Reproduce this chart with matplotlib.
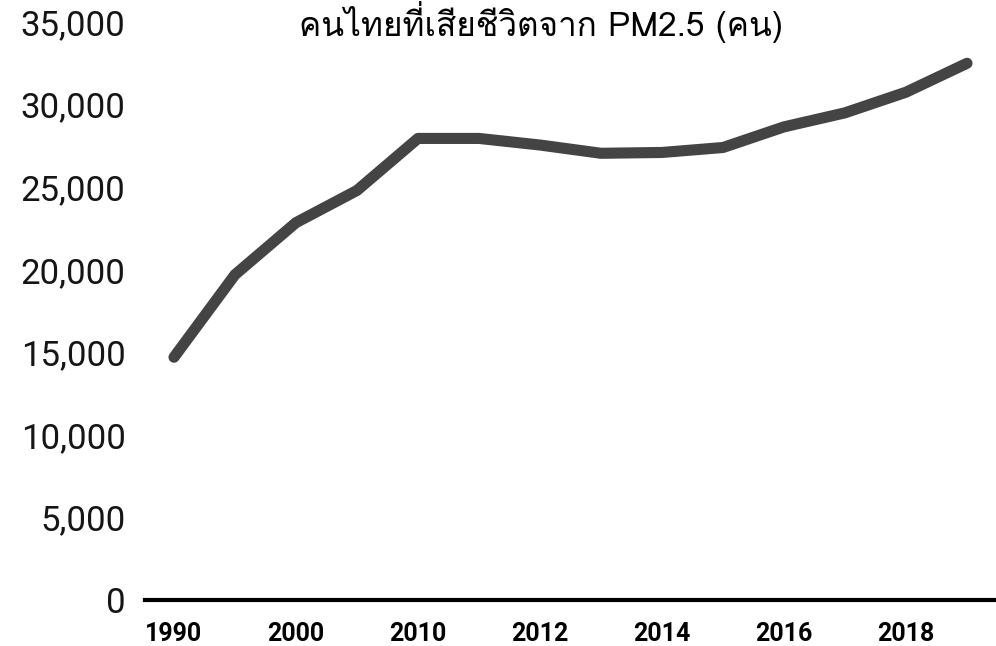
import matplotlib
matplotlib.use('Agg')
import matplotlib.pyplot as plt
from matplotlib import font_manager
from matplotlib.ft2font import FT2Font
from matplotlib.ticker import FuncFormatter

# data
years = ['1990', '1995', '2000', '2005', '2010', '2011', '2012', '2013',
         '2014', '2015', '2016', '2017', '2018', '2019']
deaths = [14700, 19700, 22850, 24800, 27950, 27950, 27550, 27050,
          27100, 27400, 28650, 29500, 30750, 32500]
shown_labels = ['1990', '2000', '2010', '2012', '2014', '2016', '2018']
title = 'คนไทยที่เสียชีวิตจาก PM2.5 (คน)'


def find_thai_font():
    # look for any installed font that has Thai glyphs
    for f in font_manager.fontManager.ttflist:
        try:
            if ord('ก') in FT2Font(f.fname).get_charmap():
                return f.name
        except Exception:
            pass
    return None


thai = find_thai_font()
base = 'Roboto'

fig = plt.figure(figsize=(9.96, 6.46), dpi=100)
ax = fig.add_axes([145 / 996, 1 - 600 / 646, 851 / 996, 578 / 646])

x = list(range(len(years)))
ax.plot(x, deaths, color='#444444', lw=8, solid_capstyle='round',
        solid_joinstyle='round', clip_on=False)

ax.set_xlim(-0.475, 13.475)
ax.set_ylim(0, 35000)
ax.set_yticks(range(0, 35001, 5000))
ax.yaxis.set_major_formatter(FuncFormatter(lambda v, p: f'{int(v):,}'))
ticks = [years.index(s) for s in shown_labels]
ax.set_xticks(ticks)
ax.set_xticklabels(shown_labels)

for s in ['top', 'right', 'left']:
    ax.spines[s].set_visible(False)
ax.spines['bottom'].set_linewidth(3)
ax.spines['bottom'].set_color('black')
ax.tick_params(axis='both', length=0)
ax.tick_params(axis='y', pad=14)
ax.tick_params(axis='x', pad=16)

for t in ax.get_yticklabels():
    t.set_fontfamily(base)
    t.set_fontsize(25)
    t.set_color('#151515')
for t in ax.get_xticklabels():
    t.set_fontfamily(base)
    t.set_fontweight('bold')
    t.set_fontsize(18)
    t.set_color('black')

fam = [thai, base] if thai else [base]
fig.text(541 / 996, 1 - 1 / 646, title, ha='center', va='top',
         fontsize=24, family=fam, color='black')

fig.savefig('out.png', dpi=100, facecolor='white')
